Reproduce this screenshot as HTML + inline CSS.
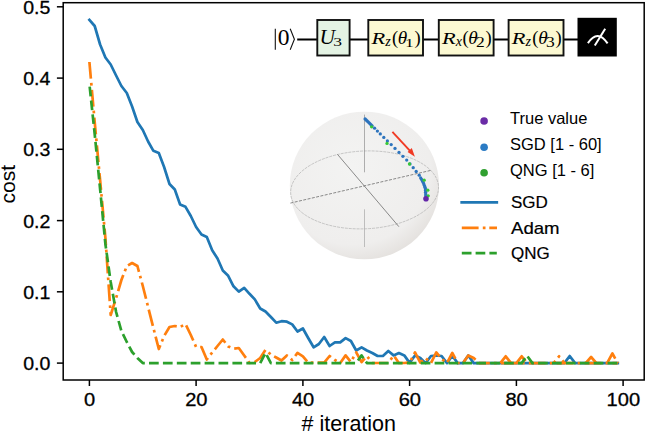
<!DOCTYPE html>
<html><head><meta charset="utf-8"><style>
html,body{margin:0;padding:0;background:#fff;}
svg{display:block;}
text{font-family:"Liberation Sans", sans-serif;fill:#000;}
.tk{font-size:18.8px;stroke:#000;stroke-width:0.3px;}
.lab{font-size:21.5px;}
.lab2{font-size:19.5px;}
.leg{font-size:16.5px;}
.leg2{font-size:17px;stroke:#000;stroke-width:0.2px;}
.ser{font-family:"Liberation Serif", serif;font-size:18px;}
</style></head><body>
<svg width="646" height="433" viewBox="0 0 646 433">
<rect width="646" height="433" fill="#fff"/>
<defs><clipPath id="ax"><rect x="63.2" y="2.7" width="581.0" height="377.3"/></clipPath>
<radialGradient id="sph" cx="0.42" cy="0.38" r="0.65"><stop offset="0" stop-color="#f3f3f2"/><stop offset="0.8" stop-color="#efeeed"/><stop offset="1" stop-color="#e4e1de"/></radialGradient></defs>
<g>
<ellipse cx="364.4" cy="185.5" rx="74.6" ry="73.8" fill="url(#sph)"/>
<ellipse cx="364.6" cy="189.9" rx="74" ry="38.9" transform="rotate(-2.5 364.6 189.9)" fill="none" stroke="#a2a2a2" stroke-width="0.55" stroke-dasharray="3 0.9"/>
<line x1="364.5" y1="114.6" x2="364.5" y2="172.3" stroke="#8f8f8f" stroke-width="0.7"/>
<line x1="364.5" y1="209.3" x2="364.5" y2="247" stroke="#a8a8a8" stroke-width="0.7"/>
<line x1="337.5" y1="154.4" x2="398.9" y2="226.7" stroke="#505050" stroke-width="0.65"/>
<line x1="290.4" y1="203.1" x2="431.6" y2="170.2" stroke="#5a5a5a" stroke-width="0.7" stroke-dasharray="3 1.4"/>
<line x1="392.4" y1="131.9" x2="410.5" y2="151.3" stroke="#f03a24" stroke-width="1.9"/>
<polygon points="414.9,156.8 407.6,151.9 411.8,148.1" fill="#f03a24"/>
<circle cx="365.1" cy="118.9" r="1.65" fill="#2d74bd"/>
<circle cx="366.1" cy="119.9" r="1.65" fill="#2d74bd"/>
<circle cx="367.1" cy="120.9" r="1.65" fill="#2d74bd"/>
<circle cx="368.1" cy="121.8" r="1.65" fill="#2d74bd"/>
<circle cx="369.1" cy="122.8" r="1.65" fill="#2d74bd"/>
<circle cx="370.1" cy="123.8" r="1.65" fill="#2d74bd"/>
<circle cx="371.1" cy="124.8" r="1.65" fill="#2d74bd"/>
<circle cx="372.1" cy="125.8" r="1.65" fill="#2d74bd"/>
<circle cx="374.6" cy="128.2" r="1.65" fill="#2d74bd"/>
<circle cx="377.4" cy="131.1" r="1.65" fill="#2d74bd"/>
<circle cx="380.3" cy="133.9" r="1.65" fill="#2d74bd"/>
<circle cx="383.8" cy="137.4" r="1.65" fill="#2d74bd"/>
<circle cx="387.4" cy="140.9" r="1.65" fill="#2d74bd"/>
<circle cx="391.2" cy="144.6" r="1.65" fill="#2d74bd"/>
<circle cx="395" cy="148.4" r="1.65" fill="#2d74bd"/>
<circle cx="399" cy="152.4" r="1.65" fill="#2d74bd"/>
<circle cx="402.9" cy="156.3" r="1.65" fill="#2d74bd"/>
<circle cx="406.7" cy="160.1" r="1.65" fill="#2d74bd"/>
<circle cx="410" cy="163.9" r="1.65" fill="#2d74bd"/>
<circle cx="413.2" cy="167.7" r="1.65" fill="#2d74bd"/>
<circle cx="416.2" cy="171.5" r="1.65" fill="#2d74bd"/>
<circle cx="419.2" cy="175.2" r="1.65" fill="#2d74bd"/>
<circle cx="420.7" cy="177.9" r="1.65" fill="#2d74bd"/>
<circle cx="421.6" cy="179.4" r="1.65" fill="#2d74bd"/>
<circle cx="422.4" cy="180.9" r="1.65" fill="#2d74bd"/>
<circle cx="423.2" cy="182.4" r="1.65" fill="#2d74bd"/>
<circle cx="423.8" cy="184" r="1.65" fill="#2d74bd"/>
<circle cx="424.4" cy="185.6" r="1.65" fill="#2d74bd"/>
<circle cx="425" cy="187.2" r="1.65" fill="#2d74bd"/>
<circle cx="425.4" cy="188.8" r="1.65" fill="#2d74bd"/>
<circle cx="425.5" cy="190.5" r="1.65" fill="#2d74bd"/>
<circle cx="425.6" cy="192.2" r="1.65" fill="#2d74bd"/>
<circle cx="425.7" cy="193.9" r="1.65" fill="#2d74bd"/>
<circle cx="425.8" cy="195.6" r="1.65" fill="#2d74bd"/>
<circle cx="426" cy="197.3" r="1.65" fill="#2d74bd"/>
<circle cx="426" cy="197.7" r="1.65" fill="#2d74bd"/>
<circle cx="371.6" cy="126.8" r="1.65" fill="#37c837"/>
<circle cx="387" cy="143.4" r="1.65" fill="#37c837"/>
<circle cx="409.5" cy="164" r="1.65" fill="#37c837"/>
<circle cx="424.2" cy="180.2" r="1.65" fill="#37c837"/>
<circle cx="427.8" cy="190.2" r="1.65" fill="#37c837"/>
<circle cx="428.2" cy="195.8" r="1.65" fill="#37c837"/>
<circle cx="426" cy="198.8" r="2.8" fill="#6426a8"/>
</g>
<g clip-path="url(#ax)" fill="none" stroke-linejoin="round">
<polyline points="89.4,19.8 94.7,26 100.1,44.5 105.4,57.5 110.7,64.5 116.1,75.5 121.4,86 126.8,93 132.1,106.5 137.4,122 142.8,130 148.1,141.5 153.4,150.8 158.8,153 164.1,167 169.5,184 174.8,189.5 180.1,204.5 185.5,206.8 190.8,216 196.1,227 201.5,234.5 206.8,237 212.2,250.3 217.5,258.5 222.8,270.5 228.2,275.8 233.5,286.3 238.8,291.6 244.2,287.8 249.5,293.8 254.8,299.4 260.2,308.5 265.5,311.5 270.9,317 276.2,322.7 281.5,321.2 286.9,321.7 292.2,324.4 297.5,331.5 302.9,328.5 308.2,338 313.6,347.3 318.9,344 324.2,337 329.6,346 334.9,342.4 340.2,342.4 345.6,338.1 350.9,341 356.2,350.5 361.6,347.4 366.9,350.5 372.3,353 377.6,356 382.9,356 388.3,351 393.6,355.4 398.9,353 404.3,355.4 409.6,362.9 415,355.5 420.3,358 425.6,363.1 431,356 436.3,355.5 441.6,356 447,363.1 452.3,355.8 457.7,363.1 463,363.1 468.3,355.5 473.7,363.1 479,363.1 484.3,363.1 489.7,363.1 495,363.1 500.3,363.1 505.7,363.1 511,363.1 516.4,363.1 521.7,363.1 527,363.1 532.4,363.1 537.7,363.1 543,363.1 548.4,363.1 553.7,363.1 559.1,363.1 564.4,363.1 569.7,356 575.1,363.1 580.4,363.1 585.7,363.1 591.1,363.1 596.4,363.1 601.8,363.1 607.1,363.1 612.4,363.1 617.8,363.1" stroke="#1f77b4" stroke-width="2.7" stroke-linecap="square"/>
<polyline points="89.4,62 94.7,122 100.1,180 105.4,238 110.7,315 116.1,298 121.4,280 126.8,266 132.1,263 137.4,266 142.8,286 148.1,307 153.4,328 158.8,349 164.1,336 169.5,327 174.8,326 180.1,327 185.5,324 190.8,335 196.1,347 201.5,347 206.8,359.5 212.2,352.5 217.5,346 222.8,339.5 228.2,346.4 233.5,348.7 238.8,348 244.2,355.5 249.5,363 254.8,362 260.2,358 265.5,349.8 270.9,354.5 276.2,357.5 281.5,360.5 286.9,355.4 292.2,360 297.5,352.9 302.9,356.3 308.2,362.6 313.6,362.6 318.9,362.6 324.2,362.6 329.6,356 334.9,360 340.2,363 345.6,355.4 350.9,362 356.2,352.3 361.6,362 366.9,356 372.3,363 377.6,363 382.9,363 388.3,363 393.6,355.4 398.9,363 404.3,363 409.6,362.6 415,352.4 420.3,362.6 425.6,358 431,363 436.3,352.4 441.6,359 447,363 452.3,353 457.7,363 463,363 468.3,355.5 473.7,358 479,363" stroke="#ff7f0e" stroke-width="2.7" stroke-dasharray="16.8 4.2 2.7 4.2"/>
<polyline points="479,363.1 617.8,363.1" stroke="#ff7f0e" stroke-width="2.7" stroke-dasharray="16.8 4.2 2.7 4.2" stroke-dashoffset="6"/>
<polyline points="500.3,363.1 505.7,356.3 511,363.1" stroke="#ff7f0e" stroke-width="2.7" stroke-dasharray="16.8 4.2 2.7 4.2" stroke-dashoffset="0"/>
<polyline points="516.4,363.1 521.7,356.3 527,363.1" stroke="#ff7f0e" stroke-width="2.7" stroke-dasharray="16.8 4.2 2.7 4.2" stroke-dashoffset="2"/>
<polyline points="553.7,363.1 559.1,356.3 564.4,363.1" stroke="#ff7f0e" stroke-width="2.7" stroke-dasharray="16.8 4.2 2.7 4.2" stroke-dashoffset="14"/>
<polyline points="585.7,363.1 591.1,357 596.4,363.1" stroke="#ff7f0e" stroke-width="2.7" stroke-dasharray="16.8 4.2 2.7 4.2" stroke-dashoffset="0"/>
<polyline points="607.1,363.1 612.4,353.5 617.8,363.1" stroke="#ff7f0e" stroke-width="2.7" stroke-dasharray="16.8 4.2 2.7 4.2" stroke-dashoffset="0"/>
<polyline points="89.4,84 94.7,134 100.1,189 105.4,244 110.7,282 116.1,312 121.4,331 126.8,342 132.1,352 137.4,358 142.8,363.1 148.1,363.1 153.4,363.1 158.8,363.1 164.1,363.1 169.5,363.1 174.8,363.1 180.1,363.1 185.5,363.1 190.8,363.1 196.1,363.1 201.5,363.1 206.8,363.1 212.2,363.1 217.5,363.1 222.8,363.1 228.2,363.1 233.5,363.1 238.8,363.1 244.2,363.1 249.5,363.1 254.8,363.1 260.2,363.1 265.5,353 270.9,363.1 276.2,363.1 281.5,363.1 286.9,363.1 292.2,363.1 297.5,363.1 302.9,363.1 308.2,363.1 313.6,363.1 318.9,363.1 324.2,363.1 329.6,363.1 334.9,363.1 340.2,363.1 345.6,363.1 350.9,363.1 356.2,363.1 361.6,355.4 366.9,363.1 372.3,363.1 377.6,363.1 382.9,363.1 388.3,363.1 393.6,363.1 398.9,363.1 404.3,363.1 409.6,363.1 415,363.1 420.3,363.1 425.6,363.1 431,363.1 436.3,363.1 441.6,363.1 447,363.1 452.3,363.1 457.7,363.1 463,363.1 468.3,363.1 473.7,363.1 479,363.1 484.3,363.1 489.7,363.1 495,363.1 500.3,363.1 505.7,363.1 511,363.1 516.4,363.1 521.7,363.1 527,355.6 532.4,363.1 537.7,363.1 543,363.1 548.4,363.1 553.7,363.1 559.1,363.1 564.4,363.1 569.7,363.1 575.1,363.1 580.4,363.1 585.7,363.1 591.1,363.1 596.4,363.1 601.8,363.1 607.1,363.1 612.4,363.1 617.8,363.1" stroke="#2ca02c" stroke-width="2.7" stroke-dasharray="9.7 4.2" stroke-dashoffset="-2.7"/>
</g>
<rect x="63.2" y="2.7" width="581.0" height="377.3" fill="none" stroke="#000" stroke-width="1.5"/>
<line x1="89.4" y1="380.0" x2="89.4" y2="386.0" stroke="#000" stroke-width="1.5"/>
<text transform="translate(89.6,405.8) scale(1.07,1)" text-anchor="middle" class="tk">0</text>
<line x1="196.1" y1="380.0" x2="196.1" y2="386.0" stroke="#000" stroke-width="1.5"/>
<text transform="translate(196.3,405.8) scale(1.07,1)" text-anchor="middle" class="tk">20</text>
<line x1="302.9" y1="380.0" x2="302.9" y2="386.0" stroke="#000" stroke-width="1.5"/>
<text transform="translate(303.1,405.8) scale(1.07,1)" text-anchor="middle" class="tk">40</text>
<line x1="409.6" y1="380.0" x2="409.6" y2="386.0" stroke="#000" stroke-width="1.5"/>
<text transform="translate(409.8,405.8) scale(1.07,1)" text-anchor="middle" class="tk">60</text>
<line x1="516.4" y1="380.0" x2="516.4" y2="386.0" stroke="#000" stroke-width="1.5"/>
<text transform="translate(516.6,405.8) scale(1.07,1)" text-anchor="middle" class="tk">80</text>
<line x1="623.1" y1="380.0" x2="623.1" y2="386.0" stroke="#000" stroke-width="1.5"/>
<text transform="translate(623.3,405.8) scale(1.07,1)" text-anchor="middle" class="tk">100</text>
<line x1="56.900000000000006" y1="363.1" x2="63.2" y2="363.1" stroke="#000" stroke-width="1.5"/>
<text transform="translate(50.3,370) scale(1.04,1)" text-anchor="end" class="tk">0.0</text>
<line x1="56.900000000000006" y1="291.8" x2="63.2" y2="291.8" stroke="#000" stroke-width="1.5"/>
<text transform="translate(50.3,298.7) scale(1.04,1)" text-anchor="end" class="tk">0.1</text>
<line x1="56.900000000000006" y1="220.6" x2="63.2" y2="220.6" stroke="#000" stroke-width="1.5"/>
<text transform="translate(50.3,227.5) scale(1.04,1)" text-anchor="end" class="tk">0.2</text>
<line x1="56.900000000000006" y1="149.3" x2="63.2" y2="149.3" stroke="#000" stroke-width="1.5"/>
<text transform="translate(50.3,156.2) scale(1.04,1)" text-anchor="end" class="tk">0.3</text>
<line x1="56.900000000000006" y1="78.1" x2="63.2" y2="78.1" stroke="#000" stroke-width="1.5"/>
<text transform="translate(50.3,85) scale(1.04,1)" text-anchor="end" class="tk">0.4</text>
<line x1="56.900000000000006" y1="6.8" x2="63.2" y2="6.8" stroke="#000" stroke-width="1.5"/>
<text transform="translate(50.3,13.7) scale(1.04,1)" text-anchor="end" class="tk">0.5</text>
<text x="348.8" y="431" text-anchor="middle" class="lab"># iteration</text>
<text transform="translate(14.5,184.2) rotate(-90) scale(1.08,1)" text-anchor="middle" class="lab2">cost</text>
<g>
<line x1="297.2" y1="39.6" x2="578" y2="39.6" stroke="#000" stroke-width="2"/>
<rect x="317.3" y="20" width="32.3" height="35.5" fill="#e4f3e4" stroke="#111" stroke-width="1.9"/>
<rect x="368.3" y="20" width="54.7" height="35.5" fill="#fcf9d2" stroke="#111" stroke-width="1.9"/>
<rect x="438.8" y="20" width="54.8" height="35.5" fill="#fcf9d2" stroke="#111" stroke-width="1.9"/>
<rect x="508.6" y="20" width="54.9" height="35.5" fill="#fcf9d2" stroke="#111" stroke-width="1.9"/>
<rect x="577.5" y="17.8" width="39.3" height="38.7" fill="#000"/>
<path d="M587.9,43.1 Q597.6,28.6 607.6,43.4" fill="none" stroke="#fff" stroke-width="2"/>
<line x1="594.8" y1="45.6" x2="605.2" y2="28.7" stroke="#fff" stroke-width="2"/>
<line x1="275.3" y1="28.7" x2="275.3" y2="49.7" stroke="#111" stroke-width="1.1"/>
<polyline points="290.2,28.7 294.4,39.2 290.2,49.7" fill="none" stroke="#111" stroke-width="1.1"/>
<text transform="translate(277.7,45.4) scale(1.0,1)" class="ser" style="font-size:23.5px">0</text>
<text transform="translate(319.4,43.5) scale(1.0,1)" class="ser" style="font-size:21.5px;font-style:italic">U</text>
<text transform="translate(333.3,46.1) scale(1.3,1)" class="ser" style="font-size:13.5px">3</text>
<text transform="translate(371.4,43.7) scale(1.28,1)" class="ser" style="font-size:17.5px;font-style:italic">R</text>
<text transform="translate(385.2,46.2) scale(1.0,1)" class="ser" style="font-size:14px;font-style:italic">z</text>
<text transform="translate(391.9,44) scale(1.0,1)" class="ser" style="font-size:18.5px">(</text>
<text transform="translate(397.8,43.7) scale(1.05,1)" class="ser" style="font-size:18.3px;font-style:italic">θ</text>
<text transform="translate(405.1,46.9) scale(1.3,1)" class="ser" style="font-size:13.5px">1</text>
<text transform="translate(414.6,44) scale(1.0,1)" class="ser" style="font-size:18.5px">)</text>
<text transform="translate(441.9,43.7) scale(1.28,1)" class="ser" style="font-size:17.5px;font-style:italic">R</text>
<text transform="translate(455.7,46.2) scale(1.0,1)" class="ser" style="font-size:14px;font-style:italic">x</text>
<text transform="translate(462.4,44) scale(1.0,1)" class="ser" style="font-size:18.5px">(</text>
<text transform="translate(468.3,43.7) scale(1.05,1)" class="ser" style="font-size:18.3px;font-style:italic">θ</text>
<text transform="translate(476,46.6) scale(1.25,1)" class="ser" style="font-size:14px">2</text>
<text transform="translate(485.6,44) scale(1.0,1)" class="ser" style="font-size:18.5px">)</text>
<text transform="translate(511.7,43.7) scale(1.28,1)" class="ser" style="font-size:17.5px;font-style:italic">R</text>
<text transform="translate(525.5,46.2) scale(1.0,1)" class="ser" style="font-size:14px;font-style:italic">z</text>
<text transform="translate(532.2,44) scale(1.0,1)" class="ser" style="font-size:18.5px">(</text>
<text transform="translate(538.2,43.7) scale(1.05,1)" class="ser" style="font-size:18.3px;font-style:italic">θ</text>
<text transform="translate(545.9,46.6) scale(1.25,1)" class="ser" style="font-size:14px">3</text>
<text transform="translate(555.4,44) scale(1.0,1)" class="ser" style="font-size:18.5px">)</text>
</g>
<circle cx="484.1" cy="121" r="3.8" fill="#6a2ca6"/>
<text x="510" y="123.7" class="leg">True value</text>
<circle cx="484.1" cy="147.2" r="3.8" fill="#2b7bc4"/>
<text x="510" y="150" class="leg">SGD [1 - 60]</text>
<circle cx="484.1" cy="172.7" r="3.8" fill="#30a030"/>
<text x="510" y="175.8" class="leg">QNG [1 - 6]</text>
<line x1="461.7" y1="202.3" x2="496.8" y2="202.3" stroke="#1f77b4" stroke-width="2.7" stroke-linecap="square"/>
<line x1="461.8" y1="227.9" x2="497.0" y2="227.9" stroke="#ff7f0e" stroke-width="2.7" stroke-dasharray="16.8 4.2 2.7 3.8"/>
<line x1="461.8" y1="253.2" x2="496.8" y2="253.2" stroke="#2ca02c" stroke-width="2.7" stroke-dasharray="9.7 4.1"/>
<text x="511" y="208.4" class="leg2">SGD</text>
<text x="511" y="233.9" class="leg2" textLength="48.6" lengthAdjust="spacingAndGlyphs">Adam</text>
<text x="511" y="259.2" class="leg2">QNG</text>
</svg>
</body></html>
